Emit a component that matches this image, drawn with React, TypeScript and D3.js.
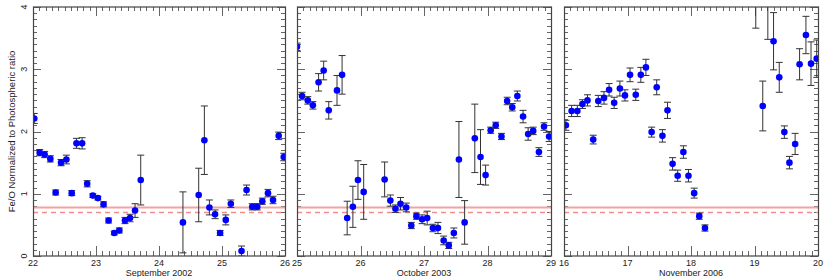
import React from "react";
import { scaleLinear, range } from "d3";

// Fe/O ratio, per panel: day of month, value, error
const sepDays = [22.02, 22.106, 22.185, 22.275, 22.36, 22.445, 22.53, 22.615, 22.69, 22.78, 22.86, 22.95, 23.03, 23.12, 23.2, 23.29, 23.37, 23.46, 23.54, 23.62, 23.71, 24.38, 24.63, 24.72, 24.8, 24.89, 24.97, 25.06, 25.14, 25.31, 25.39, 25.48, 25.56, 25.64, 25.73, 25.81, 25.9, 25.98];
const sepVals = [2.21, 1.66, 1.63, 1.56, 1.02, 1.5, 1.55, 1.01, 1.81, 1.81, 1.16, 0.97, 0.93, 0.83, 0.57, 0.37, 0.41, 0.57, 0.61, 0.73, 1.22, 0.54, 0.98, 1.86, 0.78, 0.67, 0.37, 0.58, 0.84, 0.08, 1.06, 0.79, 0.79, 0.88, 1.01, 0.9, 1.93, 1.59];
const sepErrs = [0.08, 0.05, 0.05, 0.05, 0.04, 0.05, 0.07, 0.04, 0.08, 0.09, 0.05, 0.03, 0.03, 0.04, 0.04, 0.03, 0.04, 0.05, 0.06, 0.11, 0.4, 0.49, 0.43, 0.55, 0.12, 0.07, 0.04, 0.08, 0.06, 0.08, 0.08, 0.05, 0.05, 0.05, 0.06, 0.06, 0.06, 0.06];

const octDays = [25.0, 25.08, 25.17, 25.25, 25.34, 25.42, 25.5, 25.63, 25.71, 25.79, 25.88, 25.96, 26.05, 26.38, 26.47, 26.55, 26.63, 26.72, 26.8, 26.88, 26.97, 27.05, 27.14, 27.22, 27.31, 27.39, 27.47, 27.55, 27.64, 27.8, 27.89, 27.97, 28.05, 28.13, 28.22, 28.31, 28.39, 28.47, 28.56, 28.64, 28.72, 28.81, 28.89, 28.97];
const octVals = [3.36, 2.57, 2.5, 2.42, 2.79, 2.98, 2.34, 2.66, 2.91, 0.61, 0.79, 1.22, 1.03, 1.23, 0.89, 0.76, 0.84, 0.78, 0.49, 0.64, 0.59, 0.61, 0.45, 0.45, 0.25, 0.17, 0.37, 1.55, 0.54, 1.89, 1.59, 1.3, 2.02, 2.1, 1.92, 2.49, 2.39, 2.57, 2.24, 1.96, 2.01, 1.67, 2.08, 1.92];
const octErrs = [0.06, 0.06, 0.06, 0.06, 0.14, 0.15, 0.14, 0.24, 0.31, 0.27, 0.33, 0.31, 0.44, 0.28, 0.09, 0.06, 0.1, 0.07, 0.05, 0.05, 0.07, 0.11, 0.06, 0.09, 0.07, 0.05, 0.08, 0.61, 0.35, 0.55, 0.44, 0.16, 0.05, 0.05, 0.05, 0.06, 0.06, 0.08, 0.1, 0.1, 0.06, 0.07, 0.06, 0.08];

const novDays = [16.03, 16.12, 16.21, 16.29, 16.37, 16.46, 16.54, 16.63, 16.71, 16.79, 16.88, 16.96, 17.04, 17.13, 17.21, 17.29, 17.38, 17.46, 17.55, 17.63, 17.71, 17.79, 17.88, 17.96, 18.05, 18.13, 18.22, 19.02, 19.13, 19.21, 19.3, 19.39, 19.47, 19.55, 19.64, 19.71, 19.81, 19.89, 19.98];
const novVals = [2.1, 2.33, 2.33, 2.44, 2.5, 1.87, 2.49, 2.54, 2.67, 2.46, 2.69, 2.58, 2.91, 2.59, 2.91, 3.03, 1.99, 2.71, 1.93, 2.34, 1.48, 1.29, 1.67, 1.29, 1.01, 0.64, 0.45, 4.21, 2.41, 4.1, 3.45, 2.87, 1.99, 1.5, 1.8, 3.08, 3.55, 3.09, 3.17];
const novErrs = [0.08, 0.09, 0.09, 0.07, 0.09, 0.07, 0.09, 0.1, 0.1, 0.09, 0.12, 0.09, 0.11, 0.09, 0.12, 0.13, 0.08, 0.12, 0.1, 0.13, 0.1, 0.09, 0.1, 0.1, 0.08, 0.05, 0.05, 0.55, 0.4, 0.62, 0.46, 0.24, 0.1, 0.1, 0.17, 0.25, 0.3, 0.35, 0.3];

const photoSolid = 0.78;
const photoDashed = 0.7;
const yTicks = [0, 1, 2, 3, 4];

const panels = [
  { title: "September 2002", start: 22, end: 26, x0: 33, x1: 285, days: sepDays, vals: sepVals, errs: sepErrs },
  { title: "October 2003", start: 25, end: 29, x0: 297, x1: 551, days: octDays, vals: octVals, errs: octErrs },
  { title: "November 2006", start: 16, end: 20, x0: 564, x1: 818, days: novDays, vals: novVals, errs: novErrs },
];

const TOP = 7;
const BOTTOM = 256;
const font = "Liberation Sans, Arial, sans-serif";
const tickCol = "#666";

const Panel = ({ p, idx }: { p: any; idx: number }) => {
  const x = scaleLinear().domain([p.start, p.end]).range([p.x0, p.x1]);
  const y = scaleLinear().domain([0, 4]).range([BOTTOM, TOP]);
  const minorX = range(p.start * 10, p.end * 10 + 1).map((v: number) => v / 10);
  const minorY = range(0, 41).map((v: number) => v / 10);
  const clip = `clip${idx}`;
  return (
    <g>
      <defs>
        <clipPath id={clip}>
          <rect x={p.x0} y={TOP} width={p.x1 - p.x0} height={BOTTOM - TOP} />
        </clipPath>
      </defs>
      {/* ticks, all four sides, pointing in */}
      <g stroke={tickCol} strokeWidth={1}>
        {minorX.map((d: number, i: number) => {
          const major = Math.abs(d - Math.round(d)) < 1e-6;
          const len = major ? 10 : 5;
          const xx = Math.round(x(d)) + 0.5;
          return (
            <g key={"x" + i}>
              <line x1={xx} x2={xx} y1={BOTTOM} y2={BOTTOM - len} />
              <line x1={xx} x2={xx} y1={TOP} y2={TOP + (major ? 9 : 4)} />
            </g>
          );
        })}
        {minorY.map((d: number, i: number) => {
          const major = Math.abs(d - Math.round(d)) < 1e-6;
          const len = major ? 8 : 4;
          const yy = Math.round(y(d)) + 0.5;
          return (
            <g key={"y" + i}>
              <line x1={p.x0} x2={p.x0 + len} y1={yy} y2={yy} />
              <line x1={p.x1} x2={p.x1 - len} y1={yy} y2={yy} />
            </g>
          );
        })}
      </g>
      {/* photospheric reference lines */}
      <line x1={p.x0} x2={p.x1} y1={y(photoSolid)} y2={y(photoSolid)} stroke="#f4a2a2" strokeWidth={2} />
      <line x1={p.x0} x2={p.x1} y1={y(photoDashed)} y2={y(photoDashed)} stroke="#f28d8d" strokeWidth={1.5} strokeDasharray="5,4" />
      <g clipPath={`url(#${clip})`}>
        {p.days.map((d: number, i: number) => {
          const cx = x(d);
          const v = p.vals[i];
          const e = p.errs[i];
          return (
            <g key={i} stroke="#333" strokeWidth={1}>
              <line x1={cx} x2={cx} y1={y(v - e)} y2={y(v + e)} />
              <line x1={cx - 3.5} x2={cx + 3.5} y1={y(v - e)} y2={y(v - e)} />
              <line x1={cx - 3.5} x2={cx + 3.5} y1={y(v + e)} y2={y(v + e)} />
              <circle cx={cx} cy={y(v)} r={3.3} fill="#0000ff" stroke="none" />
            </g>
          );
        })}
      </g>
      <rect x={p.x0 + 0.5} y={TOP} width={p.x1 - p.x0} height={BOTTOM - TOP} fill="none" stroke="#444" strokeWidth={1.2} />
      {/* x tick labels */}
      {range(p.start, p.end + 1).map((d: number) => (
        <text key={d} x={x(d)} y={BOTTOM + 10} textAnchor="middle" fontSize={9} fontFamily={font} fill="#222">
          {d}
        </text>
      ))}
      <text x={(p.x0 + p.x1) / 2} y={BOTTOM + 20} textAnchor="middle" fontSize={9} fontFamily={font} fill="#222">
        {p.title}
      </text>
      {idx === 0 &&
        yTicks.map((t) => (
          <text key={t} transform={`translate(${p.x0 - 6},${y(t)}) rotate(-90)`} textAnchor="middle" fontSize={9} fontFamily={font} fill="#222">
            {t}
          </text>
        ))}
    </g>
  );
};

export default function App() {
  return (
    <svg width={830} height={277} style={{ position: "absolute", left: 0, top: 0, background: "#fff" }}>
      <rect width={830} height={277} fill="#fff" />
      {panels.map((p, i) => (
        <Panel key={i} p={p} idx={i} />
      ))}
      <text transform={`translate(15,${(TOP + BOTTOM) / 2}) rotate(-90)`} textAnchor="middle" fontSize={9.5} fontFamily={font} fill="#222">
        Fe/O Normalized to Photospheric ratio
      </text>
    </svg>
  );
}
